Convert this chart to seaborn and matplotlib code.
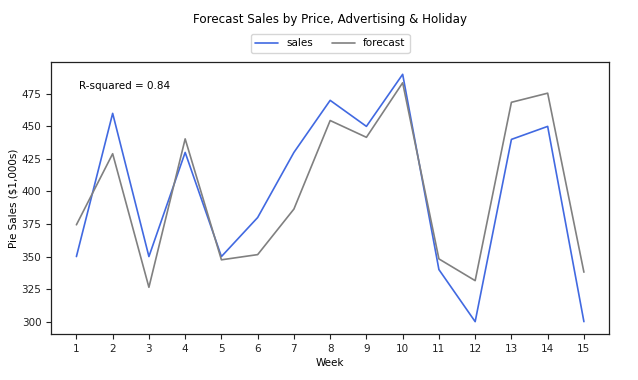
import numpy as np
import pandas as pd
import matplotlib
matplotlib.use("Agg")
import matplotlib.pyplot as plt
import seaborn as sns

weeks = list(range(1, 16))
sales = [350, 460, 350, 430, 350, 380, 430, 470, 450, 490, 340, 300, 440, 450, 300]
forecast = [374.4, 429, 326.4, 440.4, 347.5, 351.5, 386.5, 454.5, 441.6, 483.5,
            348.2, 331.5, 468.5, 475.5, 338]
r_squared = 0.84

sns.set_style("ticks")
plt.rcParams["font.family"] = ["DejaVu Sans"]
plt.rcParams["text.color"] = "black"
plt.rcParams["axes.labelcolor"] = "black"

df = pd.DataFrame({"Week": weeks * 2,
                   "value": sales + forecast,
                   "series": ["sales"] * len(weeks) + ["forecast"] * len(weeks)})

fig = plt.figure(figsize=(6.38, 3.8), dpi=100)
ax = fig.add_axes([0.08, 0.121, 0.875, 0.716])
sns.lineplot(data=df, x="Week", y="value", hue="series",
             palette={"sales": "royalblue", "forecast": "gray"},
             linewidth=1.2, ax=ax, legend=True)

ax.set_xticks(weeks)
ax.set_xlabel("Week", fontsize=7.5, labelpad=3)
ax.set_ylabel("Pie Sales ($1,000s)", fontsize=7.5, labelpad=2)
ax.tick_params(labelsize=7.5, length=3.5, width=0.8, colors="#222222")
for s in ax.spines.values():
    s.set_linewidth(0.9)
    s.set_color("#222222")

ax.text(0.05, 0.91, f"R-squared = {r_squared}", transform=ax.transAxes,
        fontsize=7.5, va="center", ha="left")

handles, labels = ax.get_legend_handles_labels()
ax.legend(handles, labels, loc="center", bbox_to_anchor=(0.5, 1.068), ncol=2,
          fontsize=7.5, frameon=True, handlelength=2.2, columnspacing=1.8)

fig.suptitle("Forecast Sales by Price, Advertising & Holiday", fontsize=8.6,
             x=0.517, y=0.965)

fig.savefig("out.png", dpi=100)
